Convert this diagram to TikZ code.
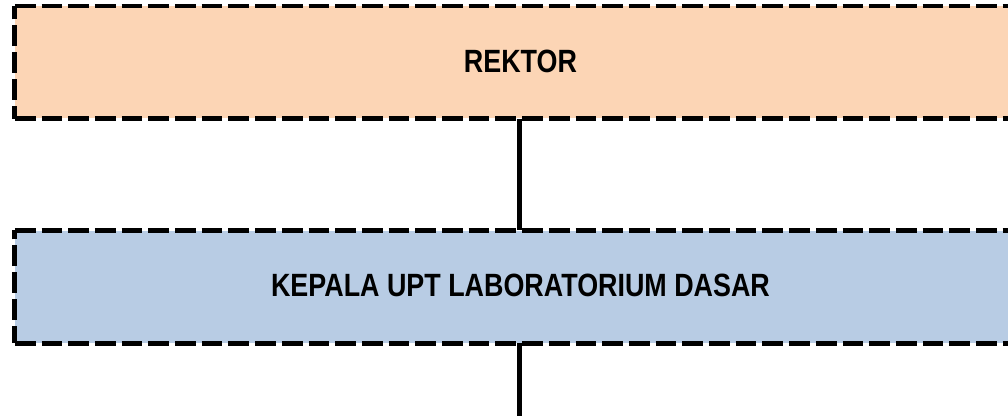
\documentclass[tikz,border=0pt]{standalone}
\usepackage{fontspec}
\newfontfamily\narrowsans{Liberation Sans}[FakeStretch=0.835]
\definecolor{peach}{HTML}{FCD5B5}
\definecolor{paleblue}{HTML}{B8CCE4}
\tikzset{
  orgbox/.style={rectangle, draw=none, minimum width=1011pt, minimum height=112pt,
    inner sep=0pt, font=\narrowsans\bfseries\fontsize{32.2}{38}\selectfont},
  dashborder/.style={line width=4.8pt, dash pattern=on 20.7pt off 6pt},
  linkline/.style={line width=5pt}
}
\begin{document}
\begin{tikzpicture}[x=1pt,y=1pt]
\useasboundingbox (0,0) rectangle (1008,416);
\clip (0,0) rectangle (1008,416);
\node[orgbox, fill=peach] (rektor) at (520.5,353.7) {\raisebox{2pt}{REKTOR}};
\node[orgbox, fill=paleblue, minimum height=112.5pt] (kepala) at (520.5,129.25) {\raisebox{2pt}{KEPALA UPT LABORATORIUM DASAR}};
\coordinate (bottomend) at (519,0);
% borders
\draw[dashborder] (rektor.north west) -- (rektor.north east);
\draw[dashborder] (rektor.south west) -- (rektor.south east);
\draw[dashborder, dash phase=7.7pt] (rektor.south west) -- (rektor.north west);
\draw[dashborder] (kepala.north west) -- (kepala.north east);
\draw[dashborder] (kepala.south west) -- (kepala.south east);
\draw[dashborder, dash phase=3pt] (kepala.south west) -- (kepala.north west);
% connectors
\draw[linkline] ([xshift=-1.5pt]rektor.south) -- ([xshift=-1.5pt]kepala.north);
\draw[linkline] ([xshift=-1.5pt]kepala.south) -- (bottomend);
\end{tikzpicture}
\end{document}
